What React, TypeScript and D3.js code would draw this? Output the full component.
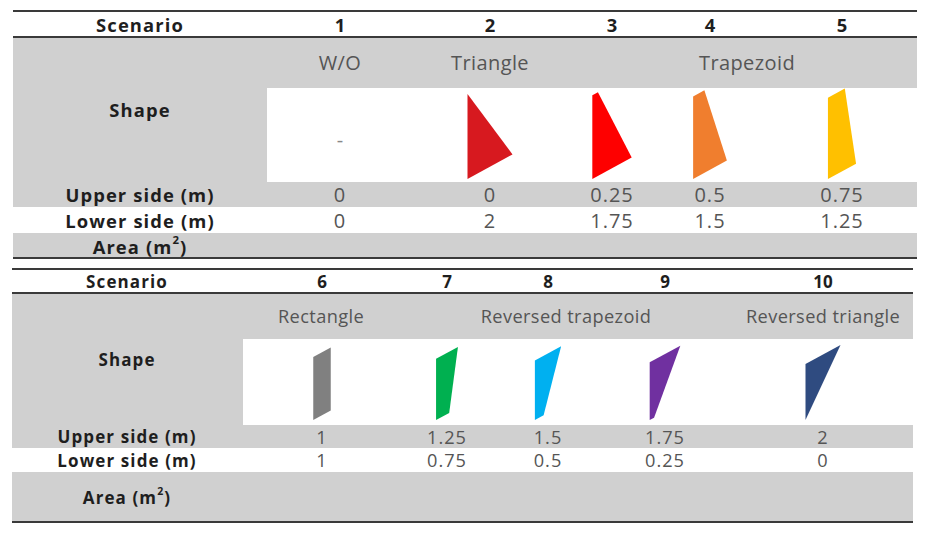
import { useEffect, useRef } from 'react'
import * as d3 from 'd3'

// Scenario table: upper/lower side lengths for 10 cross-section shapes
const SCENARIOS = [1, 2, 3, 4, 5, 6, 7, 8, 9, 10]
const UPPER = [0, 0, 0.25, 0.5, 0.75, 1, 1.25, 1.5, 1.75, 2]
const LOWER = [0, 2, 1.75, 1.5, 1.25, 1, 0.75, 0.5, 0.25, 0]
const COLORS = ['', '#d7191f', '#fe0000', '#f07e2e', '#ffc000', '#808080', '#00b050', '#00b0f0', '#7030a0', '#2f4b80']
const GROUPS = ['W/O', 'Triangle', 'Trapezoid', 'Rectangle', 'Reversed trapezoid', 'Reversed triangle']
const GROUP_OF = [0, 1, 2, 2, 2, 3, 4, 4, 4, 5]
const ROW_LABELS = ['Scenario', 'Shape', 'Upper side (m)', 'Lower side (m)', 'Area (m']

const GRAY = '#d0d0d0'
const RULE = '#3a3a3a'
const TXT = '#555555'
const BOLD = '#1e1e1e'
const FONT = '"Open Sans", "Noto Sans", sans-serif'

// layout of the two stacked tables
const PANELS = [
  {
    ids: [0, 1, 2, 3, 4], left: 13, right: 917, top: 11, header: 37, boxTop: 88, boxBottom: 182,
    upperBottom: 207, lowerBottom: 233, bottom: 258, labelX: 140, boxLeft: 267,
    cols: [340, 490, 612, 710, 842], groupX: [340, 490, 747], fs: 20, bfs: 18.4,
    ux: 22.5, uy: -12.3, edgeTop: 94, edgeShift: 5, edgeBottom: 179,
  },
  {
    ids: [5, 6, 7, 8, 9], left: 12, right: 913, top: 269, header: 293, boxTop: 339, boxBottom: 425,
    upperBottom: 448, lowerBottom: 472, bottom: 522, labelX: 127, boxLeft: 243,
    cols: [322, 447, 548, 665, 823], groupX: [321, 566, 823], fs: 18.2, bfs: 17,
    ux: 17.5, uy: -9.5, edgeTop: 350, edgeShift: 7, edgeBottom: 420,
  },
]

export default function App() {
  const ref = useRef<SVGSVGElement>(null)

  useEffect(() => {
    const svg = d3.select(ref.current)
    svg.selectAll('*').remove()

    PANELS.forEach(p => {
      const g = svg.append('g')
      const x = d3.scaleOrdinal<number, number>().domain(p.ids).range(p.cols)
      const w = p.right - p.left

      // backgrounds
      g.append('rect').attr('x', p.left).attr('y', p.header).attr('width', w).attr('height', p.upperBottom - p.header).attr('fill', GRAY)
      g.append('rect').attr('x', p.boxLeft).attr('y', p.boxTop).attr('width', p.right - p.boxLeft).attr('height', p.boxBottom - p.boxTop).attr('fill', '#fff')
      g.append('rect').attr('x', p.left).attr('y', p.lowerBottom).attr('width', w).attr('height', p.bottom - p.lowerBottom).attr('fill', GRAY)

      // rules
      ;[p.top, p.header, p.bottom].forEach(y => {
        g.append('line').attr('x1', p.left).attr('x2', p.right).attr('y1', y).attr('y2', y)
          .attr('stroke', RULE).attr('stroke-width', 2)
      })

      const rowY = [
        (p.top + p.header) / 2,
        (p.header + p.boxBottom) / 2,
        (p.boxBottom + p.upperBottom) / 2,
        (p.upperBottom + p.lowerBottom) / 2,
        (p.lowerBottom + p.bottom) / 2,
      ]

      // row labels
      ROW_LABELS.forEach((lab, i) => {
        const t = g.append('text').attr('x', p.labelX).attr('y', rowY[i])
          .attr('text-anchor', 'middle').attr('dominant-baseline', 'central')
          .attr('font-family', FONT).attr('font-weight', 700).attr('font-size', p.bfs)
          .attr('letter-spacing', 1.1).attr('fill', BOLD)
        if (i === 4) {
          t.append('tspan').text(lab)
          t.append('tspan').attr('font-size', p.bfs * 0.62).attr('dy', -p.bfs * 0.36).text('2')
          t.append('tspan').attr('dy', p.bfs * 0.36).text(')')
        } else t.text(lab)
      })

      // scenario numbers
      p.ids.forEach(i => {
        g.append('text').attr('x', x(i)).attr('y', rowY[0])
          .attr('text-anchor', 'middle').attr('dominant-baseline', 'central')
          .attr('font-family', FONT).attr('font-weight', 700).attr('font-size', p.bfs)
          .attr('fill', BOLD).text(SCENARIOS[i])
      })

      // group names
      const groups = Array.from(new Set(p.ids.map(i => GROUP_OF[i])))
      groups.forEach((gi, k) => {
        g.append('text').attr('x', p.groupX[k]).attr('y', (p.header + p.boxTop) / 2)
          .attr('text-anchor', 'middle').attr('dominant-baseline', 'central')
          .attr('font-family', FONT).attr('font-size', p.fs).attr('letter-spacing', 0.4)
          .attr('fill', TXT).text(GROUPS[gi])
      })

      // upper / lower values
      p.ids.forEach(i => {
        ;[UPPER[i], LOWER[i]].forEach((v, r) => {
          g.append('text').attr('x', x(i)).attr('y', rowY[2 + r])
            .attr('text-anchor', 'middle').attr('dominant-baseline', 'central')
            .attr('font-family', FONT).attr('font-size', p.fs).attr('letter-spacing', 1)
            .attr('fill', TXT).text(v)
        })
      })

      // shapes: side lengths mapped to a skewed edge
      const sx = d3.scaleLinear().domain([0, 1]).range([0, p.ux])
      const sy = d3.scaleLinear().domain([0, 1]).range([0, p.uy])
      p.ids.forEach(i => {
        const u = UPPER[i], l = LOWER[i]
        if (u === 0 && l === 0) {
          g.append('text').attr('x', x(i)).attr('y', (p.boxTop + p.boxBottom) / 2 + 4)
            .attr('text-anchor', 'middle').attr('dominant-baseline', 'central')
            .attr('font-family', FONT).attr('font-size', p.fs).attr('fill', '#888').text('-')
          return
        }
        const x0 = x(i) - sx(Math.max(u, l)) / 2
        const yTop = p.edgeTop + u * p.edgeShift
        const pts: [number, number][] = [
          [x0, yTop],
          [x0 + sx(u), yTop + sy(u)],
          [x0 + sx(l), p.edgeBottom + sy(l)],
          [x0, p.edgeBottom],
        ]
        g.append('path').attr('d', d3.line()(pts) + 'Z').attr('fill', COLORS[i])
      })
    })
  }, [])

  return (
    <svg ref={ref} width={930} height={535}
      style={{ position: 'absolute', left: 0, top: 0, background: '#fff' }} />
  )
}
